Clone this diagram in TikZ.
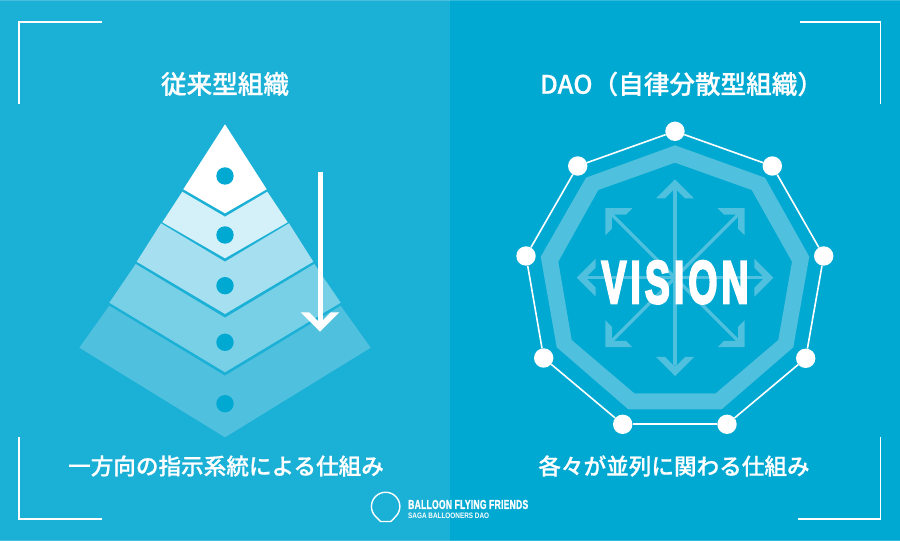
\documentclass[tikz,border=0pt]{standalone}
\usepackage{fontspec}
\usepackage{xcolor}
\usetikzlibrary{positioning, calc}
\newfontfamily\cjk[FakeBold=0.6]{Noto Sans CJK JP Medium}
\newfontfamily\visfont[FakeBold=4.5,LetterSpace=11]{Liberation Sans Bold}
\newfontfamily\logofont[FakeBold=1.5,LetterSpace=3]{Liberation Sans Bold}
\newfontfamily\subfont{Liberation Sans Bold}
\definecolor{DaoLeft}{RGB}{27, 176, 213}
\definecolor{DaoRight}{RGB}{0, 169, 210}
\definecolor{DaoTier2}{RGB}{212, 240, 248}
\definecolor{DaoTier3}{RGB}{166, 224, 240}
\definecolor{DaoTier4}{RGB}{120, 208, 230}
\definecolor{DaoTier5}{RGB}{79, 192, 222}
\tikzset{
  bracket/.style={draw=white, line width=1.8pt},
  tierdot/.style={circle, fill=DaoRight, inner sep=0pt, minimum size=17.4pt},
  ringdot/.style={circle, fill=white, inner sep=0pt, minimum size=19.4pt},
  ringline/.style={draw=white, line width=1.6pt},
  visarrow/.style={draw=DaoTier5, line width=3.3pt, shorten >=10.6pt},
  downarrow/.style={draw=white, line width=5pt, shorten >=10.9pt},
  headtext/.style={text=white, font=\cjk\fontsize{25.6}{28}\selectfont, inner sep=0pt},
  subtext/.style={text=white, font=\cjk\fontsize{22.6}{26}\selectfont, inner sep=0pt}
}
\begin{document}
\begin{tikzpicture}[x=1pt,y=1pt]
  \path[use as bounding box] (0,0) rectangle (900,541);
  \fill[DaoLeft] (0,0) rectangle (450,541);
  \fill[DaoRight] (450,0) rectangle (900,541);
  \fill[white, opacity=0.2] (0,0) rectangle (900,1);
  \fill[white, opacity=0.2] (0,540) rectangle (900,541);
  % corner brackets
  \draw[bracket] (101.5,519.3) -- (19,519.3) -- (19,437);
  \draw[bracket] (800,519.3) -- (880.5,519.3) -- (880.5,437);
  \draw[bracket] (19,104) -- (19,22) -- (101.5,22);
  \draw[bracket] (880.5,104) -- (880.5,22) -- (798,22);
  % titles
  \node[headtext] (leftTitle) at (225,457) {従来型組織};
  \node[headtext] (rightTitle) at (681.5,457) {DAO（自律分散型組織）};
  \node[subtext] (leftNote) at (226,75) {一方向の指示系統による仕組み};
  \node[subtext] (rightNote) at (674,75) {各々が並列に関わる仕組み};
  % pyramid
  \fill[white] (225,416.7) -- (266.7,351.7) -- (225,327.7) -- (183.3,351.7) -- cycle;
  \fill[DaoTier2] (267.3,349.3) -- (287.7,318.7) -- (225,282.7) -- (162.3,318.7) -- (182.3,349.3) -- (225,324.3) -- cycle;
  \fill[DaoTier3] (289,317.7) -- (313.3,279.3) -- (225,227) -- (136.7,279.3) -- (161,317.7) -- (225,279.3) -- cycle;
  \fill[DaoTier4] (314.3,277) -- (340.7,238.3) -- (225,168.7) -- (109.3,238.3) -- (135.7,277) -- (225,223.3) -- cycle;
  \fill[DaoTier5] (340.7,235.3) -- (370.7,193.3) -- (225,103.7) -- (79.3,193.3) -- (109.3,235.3) -- (225,165.3) -- cycle;
  \foreach \n/\y in {1/365,2/306,3/255.3,4/198.7,5/137.3}{
    \node[tierdot] (tier\n) at (225,\y) {};
  }
  \coordinate (arrowTop) at (320,369.3);
  \coordinate (arrowTip) at (320,209.3);
  \draw[downarrow] (arrowTop) -- (arrowTip);
  \fill[white, shift={(arrowTip)}, rotate=-90] (0,0) -- (-19.3,19.3) -- (-19.3,10.8) -- (-11,2.5) -- (-11,-2.5) -- (-19.3,-10.8) -- (-19.3,-19.3) -- cycle;
  % vision ring
  \fill[DaoTier5, even odd rule]
    (675,395.7) -- (765,363.3) -- (809.3,284.3) -- (793.3,193.7) -- (721.7,131.7) -- (628.3,131.7) -- (556.7,193.7) -- (540.7,284.3) -- (586,363.3) -- cycle
    (675,378.3) -- (751.7,351) -- (792,279.3) -- (778.3,201) -- (715.7,147.7) -- (634.3,147.7) -- (571.7,201) -- (558.3,279.3) -- (598.3,351) -- cycle;
  \coordinate (visCenter) at (675,263.3);
  \foreach \a in {0,45,...,315}{
    \path (visCenter) ++(\a:98.3) coordinate (visTip\a);
    \draw[visarrow] (visCenter) -- (visTip\a);
    \fill[DaoTier5, shift={(visTip\a)}, rotate=\a] (0,0) -- (-19,19) -- (-19,10) -- (-10.65,1.65) -- (-10.65,-1.65) -- (-19,-10) -- (-19,-19) -- cycle;
  }
  \node[inner sep=0pt, text=white] (vision) at (675,258.7) {\resizebox{147pt}{42pt}{\visfont VISION}};
  \foreach \n/\x/\y in {1/675/409.7,2/772.3/375,3/823.7/285,4/805.7/182.7,5/727/116.7,6/622.7/116.7,7/543.7/183,8/526/285,9/577.7/375}{
    \node[ringdot] (ring\n) at (\x,\y) {};
  }
  \foreach \a/\b in {1/2,2/3,3/4,4/5,5/6,6/7,7/8,8/9,9/1}{
    \draw[ringline] (ring\a) -- (ring\b);
  }
  % logo
  \draw[white, line width=1.4pt, line join=round] (380.5,19.5) -- (375.6,24.5) arc[start angle=225, end angle=-45, radius=14.2] -- (391,19.5) -- cycle;
  \node[inner sep=0pt, text=white, anchor=west] (logoName) at (408,36.5) {\resizebox{120pt}{9pt}{\logofont BALLOON FLYING FRIENDS}};
  \node[inner sep=0pt, text=white, anchor=west] (logoSub) at (408,25.5) {\resizebox{81pt}{5.5pt}{\subfont SAGA BALLOONERS DAO}};
\end{tikzpicture}
\end{document}
